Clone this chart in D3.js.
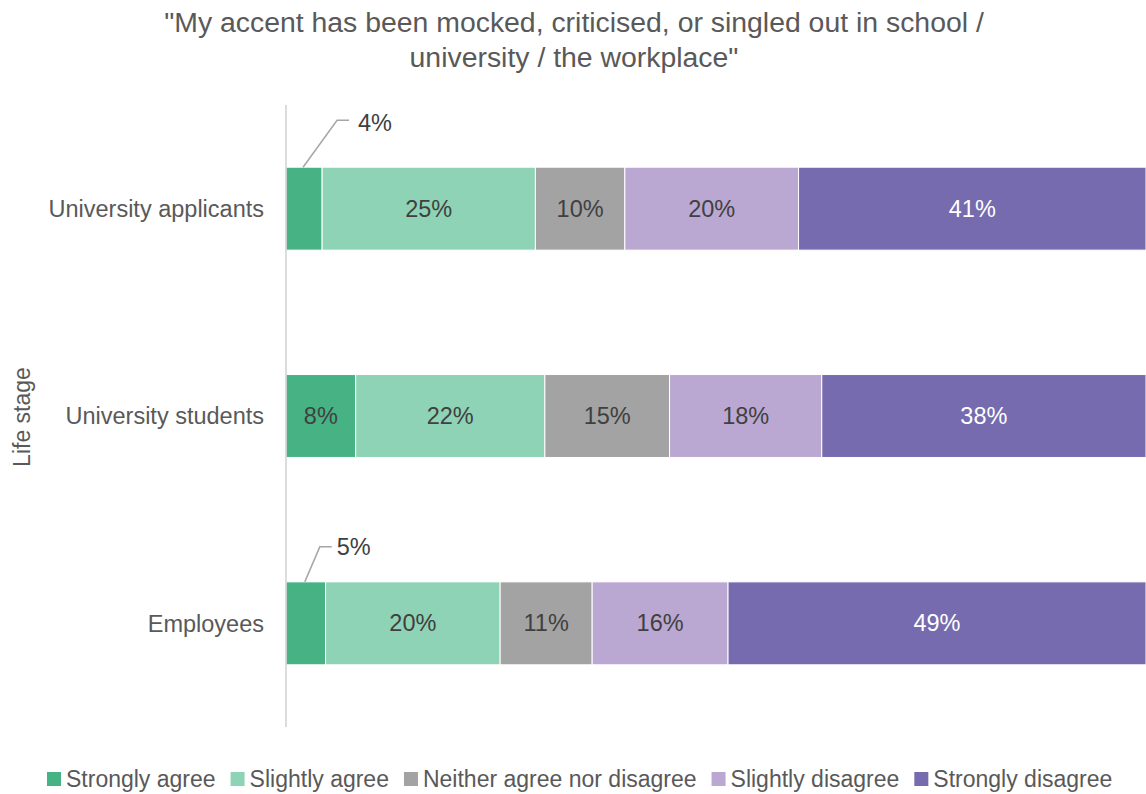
<!DOCTYPE html>
<html><head><meta charset="utf-8">
<script src="https://cdn.jsdelivr.net/npm/d3@7"></script>
<style>body{margin:0;background:#fff;} svg{display:block;font-family:"Liberation Sans",Arial,sans-serif;}</style>
</head><body>
<svg id="c" width="1146" height="794"></svg>
<script>
const categories = ["University applicants", "University students", "Employees"];
const seriesNames = ["Strongly agree", "Slightly agree", "Neither agree nor disagree", "Slightly disagree", "Strongly disagree"];
const stronglyAgree = [4.2, 8.1, 4.6];
const slightlyAgree = [24.8, 22.0, 20.3];
const neither = [10.4, 14.5, 10.7];
const slightlyDisagree = [20.2, 17.7, 15.8];
const stronglyDisagree = [40.4, 37.7, 48.6];
const labels = [["4%","25%","10%","20%","41%"],["8%","22%","15%","18%","38%"],["5%","20%","11%","16%","49%"]];
const colors = ["#47b384", "#8fd3b6", "#a3a3a3", "#bba8d2", "#756bae"];
const textColors = ["#404040","#404040","#404040","#404040","#ffffff"];
const titleLines = ["\"My accent has been mocked, criticised, or singled out in school /", "university / the workplace\""];

const series = [stronglyAgree, slightlyAgree, neither, slightlyDisagree, stronglyDisagree];
const svg = d3.select("#c");
const x = d3.scaleLinear().domain([0, 100]).range([286, 1146]);
const y = d3.scaleBand().domain(categories).range([105, 727]).paddingInner(0.6).paddingOuter(0.3);

const rows = categories.map((c, i) => {
  let acc = 0;
  return series.map((s, j) => { const v = s[i]; const o = {cat: c, i, j, x0: acc, x1: acc + v, label: labels[i][j]}; acc += v; return o; });
});

// title
svg.append("g").selectAll("text").data(titleLines).join("text")
  .attr("x", 574).attr("y", (d, i) => 32 + i * 35).attr("text-anchor", "middle")
  .attr("font-size", 28.4).attr("fill", "#595959").text(d => d);

// bars
const g = svg.append("g");
rows.forEach(r => {
  g.selectAll(null).data(r).join("rect")
    .attr("x", d => x(d.x0)).attr("width", d => x(d.x1) - x(d.x0))
    .attr("y", d => y(d.cat)).attr("height", y.bandwidth())
    .attr("fill", d => colors[d.j]).attr("stroke", "#fff").attr("stroke-width", 1);
  g.selectAll(null).data(r.filter(d => d.x1 - d.x0 > 6)).join("text")
    .attr("x", d => x((d.x0 + d.x1) / 2)).attr("y", d => y(d.cat) + y.bandwidth() / 2 + 8)
    .attr("text-anchor", "middle").attr("font-size", 23.5).attr("fill", d => textColors[d.j]).text(d => d.label);
});

// leader labels for small segments
rows.forEach(r => {
  const d = r[0];
  if (d.x1 - d.x0 > 6) return;
  const cx = x((d.x0 + d.x1) / 2) - 1;
  const top = y(d.cat);
  const ex = cx + 34 - (d.i === 2 ? 19 : 0), ey = top - (d.i === 2 ? 35 : 47);
  g.append("path").attr("d", `M${cx},${top} L${ex},${ey} L${ex + 12},${ey}`)
    .attr("fill", "none").attr("stroke", "#a6a6a6").attr("stroke-width", 1.5);
  g.append("text").attr("x", ex + (d.i === 2 ? 17 : 21)).attr("y", ey + (d.i === 2 ? 8 : 11)).attr("font-size", 23.5).attr("fill", "#404040").text(d.label);
});

// y axis
const ax = svg.append("g").attr("transform", "translate(286,0)")
  .call(d3.axisLeft(y).tickSize(0).tickPadding(22));
ax.select(".domain").attr("stroke", "#d0d0d0").attr("stroke-width", 1.5).attr("d", "M0,105V727");
ax.selectAll("text").attr("font-size", 23.5).attr("fill", "#595959").attr("font-family", "Liberation Sans, Arial, sans-serif").attr("dy", "0.35em");

svg.append("text").attr("transform", "translate(30,417) rotate(-90)").attr("text-anchor", "middle")
  .attr("font-size", 23).attr("fill", "#595959").text("Life stage");

// legend
const leg = svg.append("g");
let lx = 47;
seriesNames.forEach((n, j) => {
  leg.append("rect").attr("x", lx).attr("y", 772).attr("width", 14).attr("height", 14).attr("fill", colors[j]);
  const t = leg.append("text").attr("x", lx + 19).attr("y", 787).attr("font-size", 23).attr("fill", "#595959").text(n);
  lx += 19 + t.node().getComputedTextLength() + 15;
});
</script>
</body></html>
